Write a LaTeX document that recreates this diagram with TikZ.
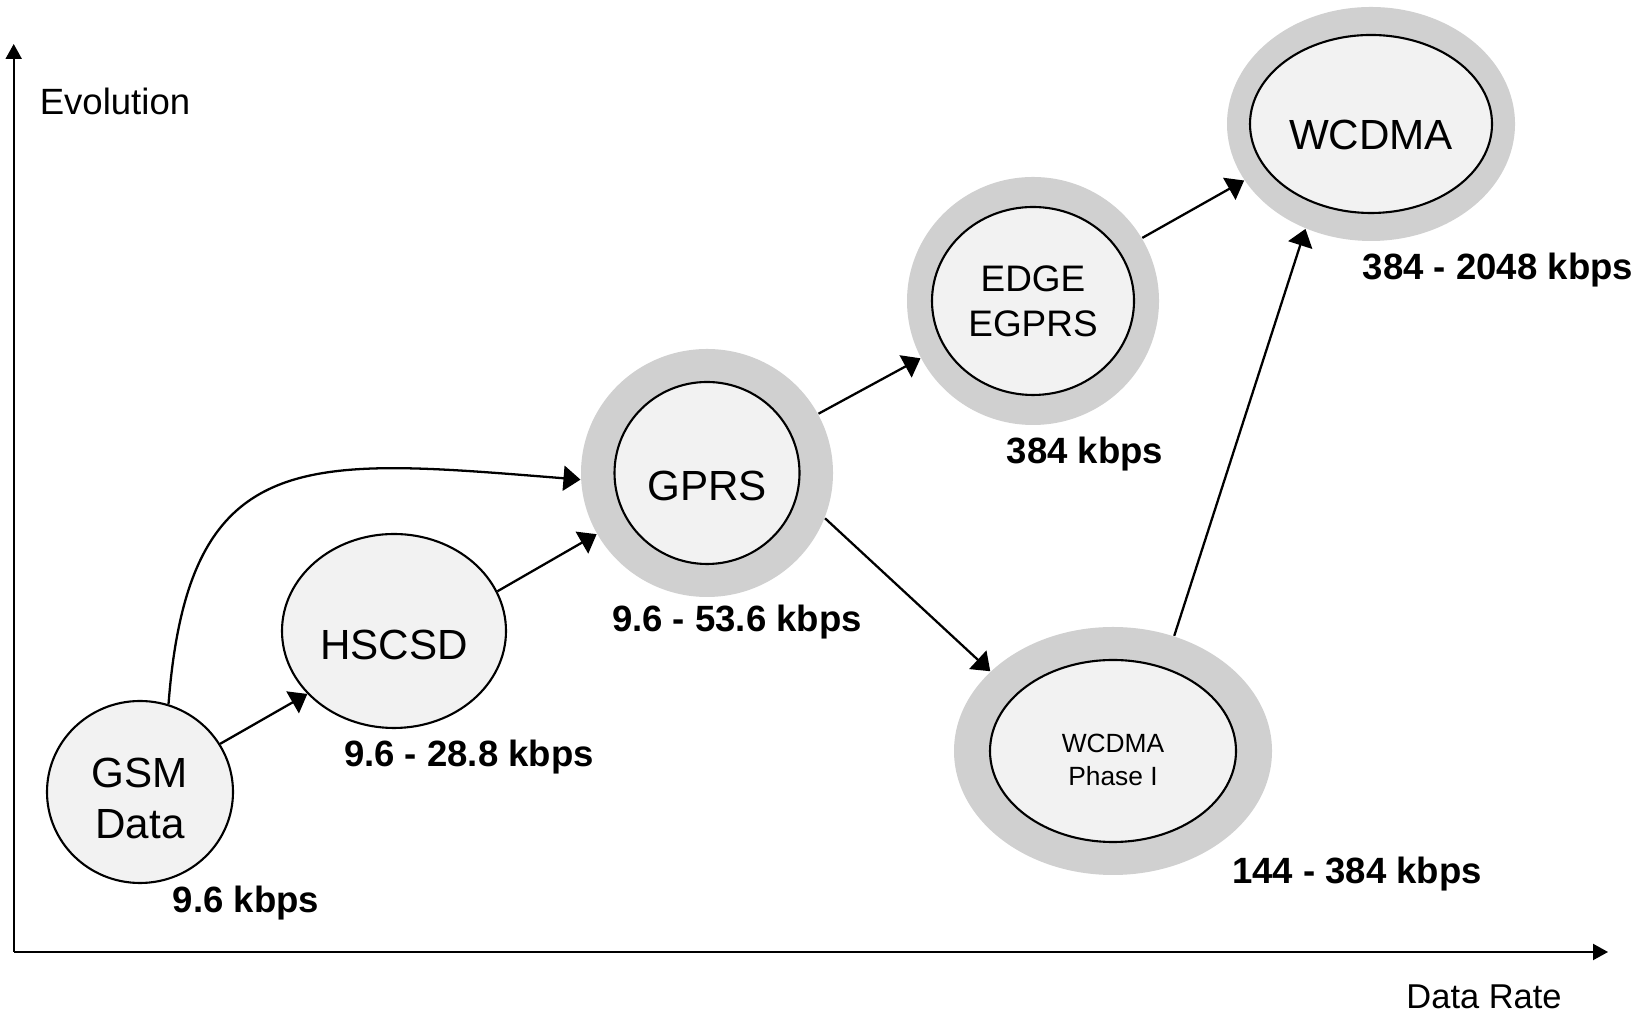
\documentclass[tikz,border=0pt]{standalone}
\usepackage{fontspec}
\setmainfont{Liberation Sans}
\usetikzlibrary{arrows.meta,shapes.geometric}
\definecolor{ringgray}{HTML}{D0D0D0}
\definecolor{corefill}{HTML}{F2F2F2}

\begin{document}
\begin{tikzpicture}[
    ring/.style={ellipse,fill=ringgray,inner sep=0pt},
    core/.style={ellipse,draw,line width=0.6pt,fill=corefill,inner sep=0pt},
    stagetext/.style={align=center,inner sep=0pt,font=\fontsize{12}{14.4}\selectfont},
    rate/.style={font=\fontsize{10.4}{12}\selectfont\bfseries},
    link/.style={line width=0.65pt,-{Triangle[length=0.17cm,width=0.25cm]}},
    axis/.style={line width=0.6pt,-{Triangle[length=0.15cm,width=0.16cm]}}]
  \useasboundingbox (0,0) rectangle (16.49,10.11);
  % axes
  \coordinate (origin) at (0.137,0.59);
  \coordinate (ytip) at (0.137,9.67);
  \coordinate (xtip) at (16.08,0.59);
  \draw[axis] (origin) -- (ytip);
  \draw[axis] (origin) -- (xtip);
  \node[font=\fontsize{10.4}{12}\selectfont] (ylabel) at (1.15,9.10) {Evolution};
  \node[font=\fontsize{9.8}{12}\selectfont] (xlabel) at (14.84,0.14) {Data Rate};
  % plain stages
  \node[core,minimum width=1.86cm,minimum height=1.82cm] (gsm) at (1.40,2.19) {};
  \node[stagetext] (gsm-text) at ([yshift=-0.065cm]gsm) {GSM\\Data};
  \node[core,minimum width=2.24cm,minimum height=1.94cm] (hscsd) at (3.94,3.80) {};
  \node[stagetext] (hscsd-text) at ([yshift=-0.14cm]hscsd) {HSCSD};
  % ringed stages
  \node[ring,minimum width=2.52cm,minimum height=2.48cm] (gprs) at (7.07,5.38) {};
  \node[core,minimum width=1.85cm,minimum height=1.82cm] (gprs-in) at (gprs) {};
  \node[stagetext] (gprs-text) at ([yshift=-0.13cm]gprs) {GPRS};
  \node[ring,minimum width=2.52cm,minimum height=2.48cm] (edge) at (10.33,7.10) {};
  \node[core,minimum width=2.02cm,minimum height=1.88cm] (edge-in) at (edge) {};
  \node[stagetext,font=\fontsize{10.5}{12.9}\selectfont] (edge-text) at (edge) {EDGE\\EGPRS};
  \node[ring,minimum width=2.88cm,minimum height=2.34cm] (wcdma) at (13.71,8.87) {};
  \node[core,minimum width=2.42cm,minimum height=1.78cm] (wcdma-in) at (wcdma) {};
  \node[stagetext] (wcdma-text) at ([yshift=-0.115cm]wcdma) {WCDMA};
  \node[ring,minimum width=3.18cm,minimum height=2.48cm] (phase1) at (11.13,2.60) {};
  \node[core,minimum width=2.46cm,minimum height=1.82cm] (phase1-in) at (phase1) {};
  \node[stagetext,font=\fontsize{7.5}{9.3}\selectfont] (phase1-text) at ([yshift=-0.09cm]phase1) {WCDMA\\Phase I};
  % rates
  \node[rate] (gsm-rate) at (2.46,1.08) {9.6 kbps};
  \node[rate] (hscsd-rate) at (4.69,2.54) {9.6 - 28.8 kbps};
  \node[rate] (gprs-rate) at (7.37,3.89) {9.6 - 53.6 kbps};
  \node[rate] (edge-rate) at (10.85,5.57) {384 kbps};
  \node[rate] (wcdma-rate) at (14.98,7.41) {384 - 2048 kbps};
  \node[rate] (phase1-rate) at (13.57,1.37) {144 - 384 kbps};
  % evolution paths
  \draw[link] (gsm.31) -- (hscsd.216);
  \draw[link] (gsm.72) .. controls +(0.2,2.61) and +(-2.75,0.22) .. (gprs.183);
  \draw[link] (hscsd.21) -- (gprs.209);
  \draw[link] (gprs.28) -- (edge.207);
  \draw[link] (gprs.339) -- (phase1.147);
  \draw[link] (edge.30) -- (wcdma.204);
  \draw[link] (phase1.62) -- (wcdma.238);
\end{tikzpicture}
\end{document}
